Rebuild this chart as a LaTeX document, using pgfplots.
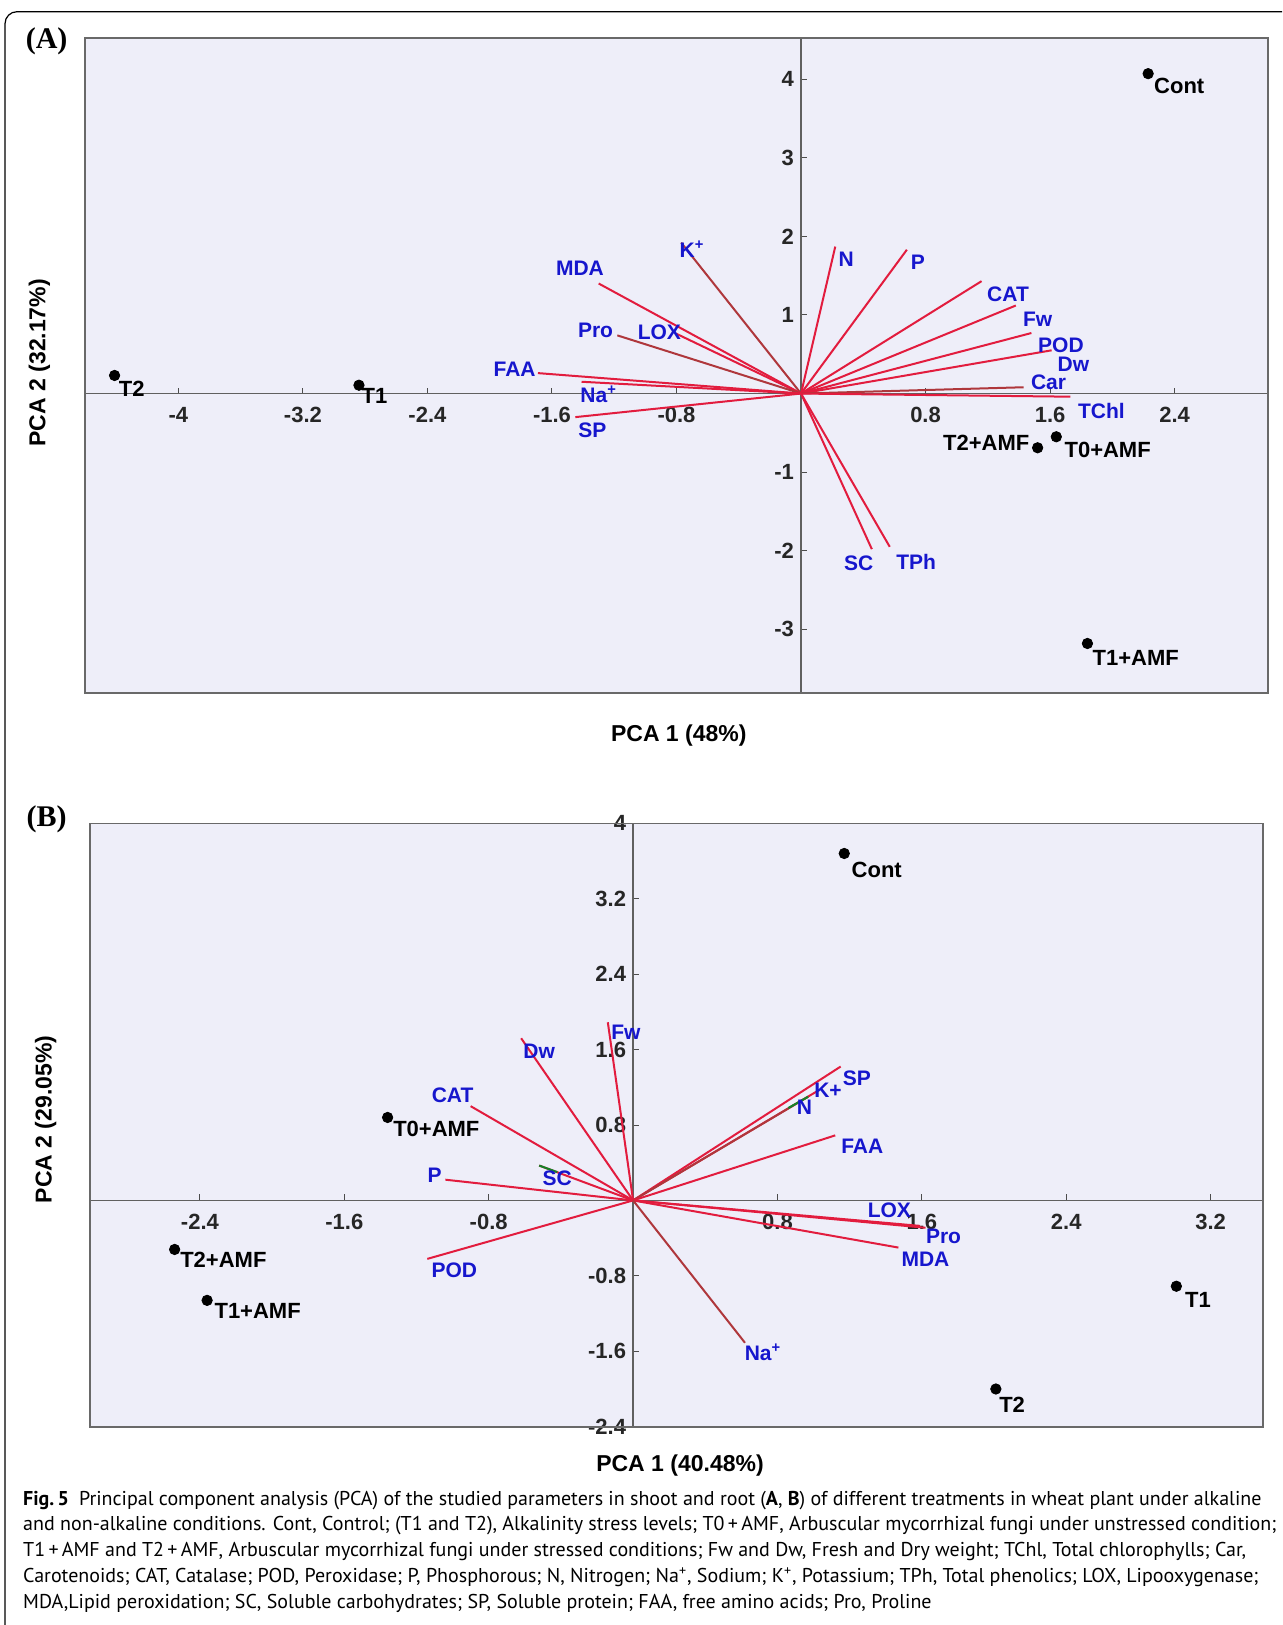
\documentclass[border=0pt]{standalone}
\usepackage{pgfplots}
\pgfplotsset{compat=1.18}
\usepackage{fontspec}
\setmainfont{Liberation Sans}
\newfontfamily\serifb{Liberation Serif}
\newfontfamily\capfont{PT Sans}
\definecolor{bgc}{RGB}{238,238,249}
\definecolor{vec}{RGB}{226,28,62}
\definecolor{vecd}{RGB}{175,55,60}
\definecolor{lab}{RGB}{22,22,205}
\definecolor{framec}{RGB}{105,105,105}
\definecolor{tipg}{RGB}{20,130,40}
\newcommand\lf{\bfseries\fontsize{10.5}{10.5}\selectfont}
\newcommand\pf{\bfseries\fontsize{11}{11}\selectfont}
\pgfplotsset{
  pcastyle/.style={
    scale only axis, axis lines*=middle, clip=false,
    axis background/.style={fill=bgc},
    axis line style={gray!75!black, line width=0.6pt},
    tick style={black!70, line width=0.5pt}, major tick length=3pt,
    tick label style={font=\bfseries\fontsize{11}{11}\selectfont, text=black!85},
    xticklabel style={yshift=-3.5pt},
    after end axis/.code={\draw[framec, line width=0.8pt] (rel axis cs:0,0) rectangle (rel axis cs:1,1);},
  },
  vecline/.style={vec, line width=1pt, mark=none},
  dots/.style={only marks, mark=*, mark size=2.6pt, black},
}
\begin{document}
\begin{tikzpicture}
\useasboundingbox (0,0) rectangle (641pt,-812.5pt);
\draw[line width=0.6pt] (2.5pt,-812.5pt) -- (2.5pt,-11.85pt) arc[start angle=180,end angle=90,radius=6pt] -- (641pt,-5.85pt);

% ---------------- Panel A ----------------
\begin{axis}[pcastyle,
  at={(42.5pt,-19.15pt)}, anchor=north west,
  width=591.5pt, height=327.35pt,
  xmin=-4.60, xmax=3.00, ymin=-3.81, ymax=4.52,
  xtick={-4,-3.2,-2.4,-1.6,-0.8,0.8,1.6,2.4},
  xticklabels={{-4},{-3.2},{-2.4},{-1.6},{-0.8},{0.8},{1.6},{2.4}},
  ytick={-3,-2,-1,1,2,3,4},
  yticklabels={{-3},{-2},{-1},{1},{2},{3},{4}},
]
\addplot[vecline, vecd] coordinates {(0,0) (-0.77,1.92)};   % K+
\addplot[vecline] coordinates {(0,0) (-1.30,1.40)};         % MDA
\addplot[vecline] coordinates {(0,0) (-0.80,0.76)};         % LOX
\addplot[vecline, vecd] coordinates {(0,0) (-1.18,0.74)};   % Pro
\addplot[vecline] coordinates {(0,0) (-1.69,0.26)};         % FAA
\addplot[vecline] coordinates {(0,0) (-1.41,0.15)};         % Na+
\addplot[vecline] coordinates {(0,0) (-1.45,-0.30)};        % SP
\addplot[vecline] coordinates {(0,0) (0.22,1.87)};          % N
\addplot[vecline] coordinates {(0,0) (0.68,1.83)};          % P
\addplot[vecline] coordinates {(0,0) (1.16,1.43)};          % CAT
\addplot[vecline] coordinates {(0,0) (1.38,1.12)};          % Fw
\addplot[vecline] coordinates {(0,0) (1.48,0.77)};          % POD
\addplot[vecline] coordinates {(0,0) (1.61,0.55)};          % Dw
\addplot[vecline, vecd] coordinates {(0,0) (1.43,0.08)};    % Car
\addplot[vecline] coordinates {(0,0) (1.73,-0.04)};         % TChl
\addplot[vecline] coordinates {(0,0) (0.455,-1.98)};        % SC
\addplot[vecline] coordinates {(0,0) (0.57,-1.95)};         % TPh
\addplot[dots] coordinates {(2.23,4.07) (-4.41,0.23) (-2.84,0.106) (1.52,-0.69) (1.64,-0.55) (1.84,-3.18)};
% variable labels
\node[lab, font=\lf] at (axis cs:-0.70,1.84) {K\textsuperscript{+}};
\node[lab, font=\lf] at (axis cs:-1.42,1.59) {MDA};
\node[lab, font=\lf] at (axis cs:-0.91,0.785) {LOX};
\node[lab, font=\lf] at (axis cs:-1.32,0.81) {Pro};
\node[lab, font=\lf] at (axis cs:-1.84,0.31) {FAA};
\node[lab, font=\lf] at (axis cs:-1.30,-0.01) {Na\textsuperscript{+}};
\node[lab, font=\lf] at (axis cs:-1.34,-0.47) {SP};
\node[lab, font=\lf] at (axis cs:0.29,1.71) {N};
\node[lab, font=\lf] at (axis cs:0.75,1.67) {P};
\node[lab, font=\lf] at (axis cs:1.33,1.26) {CAT};
\node[lab, font=\lf] at (axis cs:1.52,0.94) {Fw};
\node[lab, font=\lf] at (axis cs:1.67,0.61) {POD};
\node[lab, font=\lf] at (axis cs:1.75,0.375) {Dw};
\node[lab, font=\lf] at (axis cs:1.59,0.14) {Car};
\node[lab, font=\lf] at (axis cs:1.93,-0.22) {TChl};
\node[lab, font=\lf] at (axis cs:0.37,-2.16) {SC};
\node[lab, font=\lf] at (axis cs:0.74,-2.14) {TPh};
% treatment labels
\node[black, font=\pf] at (axis cs:2.43,3.91) {Cont};
\node[black, font=\pf] at (axis cs:-4.30,0.06) {T2};
\node[black, font=\pf] at (axis cs:-2.74,-0.03) {T1};
\node[black, font=\pf] at (axis cs:1.19,-0.63) {T2+AMF};
\node[black, font=\pf] at (axis cs:1.97,-0.72) {T0+AMF};
\node[black, font=\pf] at (axis cs:2.15,-3.36) {T1+AMF};
\end{axis}

% ---------------- Panel B ----------------
\begin{axis}[pcastyle,
  at={(44.9pt,-411.65pt)}, anchor=north west,
  width=586.6pt, height=301.7pt,
  xmin=-3.01, xmax=3.49, ymin=-2.4, ymax=4.0,
  xtick={-2.4,-1.6,-0.8,0.8,1.6,2.4,3.2},
  xticklabels={{-2.4},{-1.6},{-0.8},{0.8},{1.6},{2.4},{3.2}},
  ytick={-2.4,-1.6,-0.8,0.8,1.6,2.4,3.2,4},
  yticklabels={{-2.4},{-1.6},{-0.8},{0.8},{1.6},{2.4},{3.2},{4}},
]
\addplot[vecline] coordinates {(0,0) (-0.14,1.89)};   % Fw
\addplot[vecline] coordinates {(0,0) (-0.62,1.72)};   % Dw
\addplot[vecline] coordinates {(0,0) (-0.90,1.00)};   % CAT
\addplot[vecline] coordinates {(0,0) (-0.52,0.37)};   % SC
\addplot[tipg, line width=1pt] coordinates {(-0.42,0.30) (-0.52,0.37)};
\addplot[vecline] coordinates {(0,0) (-1.04,0.22)};   % P
\addplot[vecline] coordinates {(0,0) (-1.14,-0.62)};  % POD
\addplot[vecline] coordinates {(0,0) (1.15,1.42)};    % SP
\addplot[vecline] coordinates {(0,0) (1.03,1.17)};    % K+
\addplot[vecline, vecd] coordinates {(0,0) (0.97,1.10)};  % N
\addplot[tipg, line width=1pt] coordinates {(0.86,0.98) (0.97,1.10)};
\addplot[vecline] coordinates {(0,0) (1.12,0.69)};    % FAA
\addplot[vecline] coordinates {(0,0) (1.59,-0.27)};   % LOX
\addplot[vecline] coordinates {(0,0) (1.62,-0.29)};   % Pro
\addplot[vecline] coordinates {(0,0) (1.47,-0.50)};   % MDA
\addplot[vecline, vecd] coordinates {(0,0) (0.62,-1.51)}; % Na+
\addplot[dots] coordinates {(1.17,3.68) (-1.36,0.88) (-2.54,-0.52) (-2.36,-1.06) (3.01,-0.91) (2.01,-2.00)};
\node[lab, font=\lf] at (axis cs:-0.04,1.78) {Fw};
\node[lab, font=\lf] at (axis cs:-0.52,1.58) {Dw};
\node[lab, font=\lf] at (axis cs:-1.00,1.12) {CAT};
\node[lab, font=\lf] at (axis cs:-0.42,0.24) {SC};
\node[lab, font=\lf] at (axis cs:-1.10,0.27) {P};
\node[lab, font=\lf] at (axis cs:-0.99,-0.74) {POD};
\node[lab, font=\lf] at (axis cs:1.24,1.30) {SP};
\node[lab, font=\lf] at (axis cs:1.08,1.17) {K+};
\node[lab, font=\lf] at (axis cs:0.95,0.99) {N};
\node[lab, font=\lf] at (axis cs:1.27,0.57) {FAA};
\node[lab, font=\lf] at (axis cs:1.42,-0.10) {LOX};
\node[lab, font=\lf] at (axis cs:1.72,-0.38) {Pro};
\node[lab, font=\lf] at (axis cs:1.62,-0.62) {MDA};
\node[lab, font=\lf] at (axis cs:0.72,-1.61) {Na\textsuperscript{+}};
\node[black, font=\pf] at (axis cs:1.35,3.51) {Cont};
\node[black, font=\pf] at (axis cs:-1.09,0.755) {T0+AMF};
\node[black, font=\pf] at (axis cs:-2.27,-0.63) {T2+AMF};
\node[black, font=\pf] at (axis cs:-2.08,-1.17) {T1+AMF};
\node[black, font=\pf] at (axis cs:3.13,-1.05) {T1};
\node[black, font=\pf] at (axis cs:2.10,-2.17) {T2};
\end{axis}

% panel letters and axis titles
\node[font=\serifb\bfseries\fontsize{15}{15}\selectfont] at (23.3pt,-20.75pt) {(A)};
\node[font=\serifb\bfseries\fontsize{15}{15}\selectfont] at (23.3pt,-409.4pt) {(B)};
\node[font=\bfseries\fontsize{11.5}{11.5}\selectfont] at (339.4pt,-367.9pt) {PCA 1 (48\%)};
\node[font=\bfseries\fontsize{11.5}{11.5}\selectfont, rotate=90] at (19.7pt,-181.4pt) {PCA 2 (32.17\%)};
\node[font=\bfseries\fontsize{11.5}{11.5}\selectfont] at (340pt,-732.8pt) {PCA 1 (40.48\%)};
\node[font=\bfseries\fontsize{11.5}{11.5}\selectfont, rotate=90] at (22.8pt,-559.7pt) {PCA 2 (29.05\%)};

% caption
\node[anchor=north west, inner sep=0pt, align=left, font=\capfont\fontsize{10}{12.95}\selectfont] at (11.4pt,-745.2pt) {%
\textbf{Fig.\,5}\enspace Principal component analysis (PCA) of the studied parameters in shoot and root (\textbf{A}, \textbf{B}) of different treatments in wheat plant under alkaline\\
and non-alkaline conditions. Cont, Control; (T1 and T2), Alkalinity stress levels; T0\,+\,AMF, Arbuscular mycorrhizal fungi under unstressed condition;\\
T1\,+\,AMF and T2\,+\,AMF, Arbuscular mycorrhizal fungi under stressed conditions; Fw and Dw, Fresh and Dry weight; TChl, Total chlorophylls; Car,\\
Carotenoids; CAT, Catalase; POD, Peroxidase; P, Phosphorous; N, Nitrogen; Na\textsuperscript{+}, Sodium; K\textsuperscript{+}, Potassium; TPh, Total phenolics; LOX, Lipooxygenase;\\
MDA,Lipid peroxidation; SC, Soluble carbohydrates; SP, Soluble protein; FAA, free amino acids; Pro, Proline};
\end{tikzpicture}
\end{document}
